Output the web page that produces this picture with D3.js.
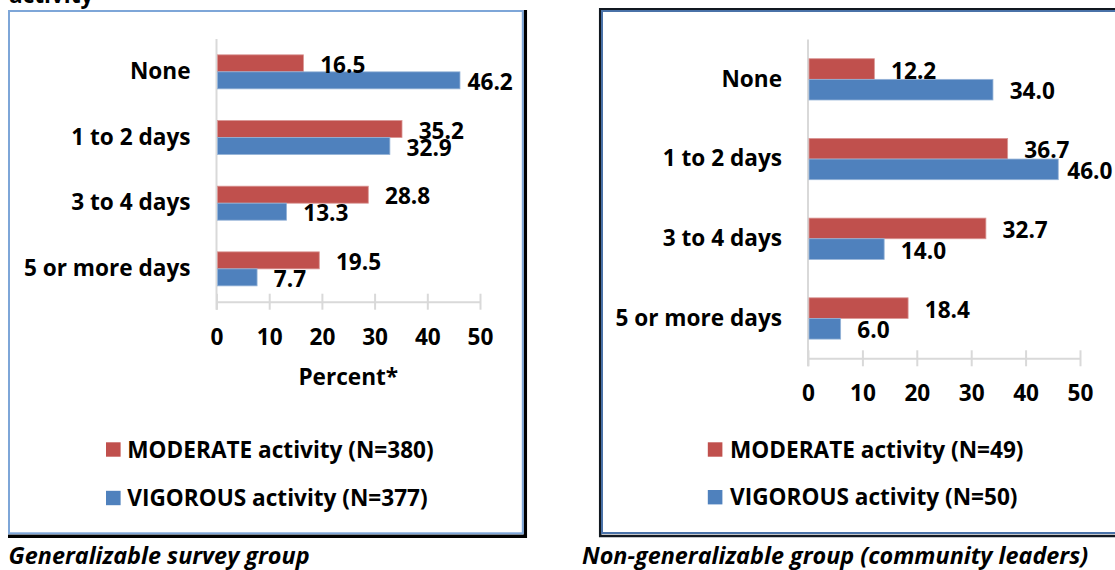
<!DOCTYPE html>
<html><head><meta charset="utf-8">
<script src="https://cdn.jsdelivr.net/npm/d3@7"></script>
<style>
body{margin:0;background:#fff}
svg{display:block}
text{font-family:"Open Sans",sans-serif;font-weight:700;fill:#000}
</style>
</head><body><svg id="chart" width="1115" height="570"></svg>
<script>
// ---------- data ----------
const categories = ["None", "1 to 2 days", "3 to 4 days", "5 or more days"];
const seriesKeys = ["moderate", "vigorous"];
const xTicks = [0, 10, 20, 30, 40, 50];
const generalModerate = [16.5, 35.2, 28.8, 19.5];
const generalVigorous = [46.2, 32.9, 13.3, 7.7];
const leadersModerate = [12.2, 36.7, 32.7, 18.4];
const leadersVigorous = [34.0, 46.0, 14.0, 6.0];
const generalLegend = ["MODERATE activity (N=380)", "VIGOROUS activity (N=377)"];
const leadersLegend = ["MODERATE activity (N=49)", "VIGOROUS activity (N=50)"];
const captions = ["Generalizable survey group", "Non-generalizable group (community leaders)"];
const axisTitle = "Percent*";
const headerFragment = "activity";

// ---------- styles ----------
const colors = {moderate: "#C0504D", vigorous: "#4F81BD"};
const axisColor = "#D9D9D9";
const FS = 22.6;
const CAP_FS = 23.4;

const svg = d3.select("#chart");

// header fragment (cut off at top)
svg.append("text").attr("x", 9).attr("y", 2.5).style("font-size", FS + "px").text(headerFragment);

// frames
svg.append("path").attr("d", "M525.3,10 V536.3 H8").attr("fill", "none").attr("stroke", "#000").attr("stroke-width", 3.5);
svg.append("rect").attr("x", 9).attr("y", 11).attr("width", 513.8).attr("height", 522.3)
  .attr("fill", "none").attr("stroke", "#7EA6D8").attr("stroke-width", 2);
svg.append("path").attr("d", "M1120,9.2 H600.2 V536 H1120").attr("fill", "none").attr("stroke", "#111820").attr("stroke-width", 2.5);
svg.append("path").attr("d", "M1120,11 H602 V533 H1120").attr("fill", "none").attr("stroke", "#4A72A8").attr("stroke-width", 2);

function drawPanel(cfg) {
  const g = svg.append("g");
  const data = categories.map((c, i) => ({cat: c, moderate: cfg.mod[i], vigorous: cfg.vig[i]}));
  const x = d3.scaleLinear().domain([0, 50]).range([cfg.x0, cfg.x1]);
  const y = d3.scaleBand().domain(categories).range([cfg.yTop, cfg.yAxis]).paddingInner(0.482).paddingOuter(0.241);
  const ys = d3.scaleBand().domain(seriesKeys).range([0, y.bandwidth()]);
  const maxV = d3.max(data, d => Math.max(d.moderate, d.vigorous));

  g.append("line").attr("x1", x(0)).attr("x2", x(0)).attr("y1", cfg.yTop).attr("y2", cfg.yAxis + 8)
    .attr("stroke", axisColor).attr("stroke-width", 2);

  const grp = g.selectAll("g.cat").data(data).join("g").attr("class", "cat")
    .attr("transform", d => `translate(0,${y(d.cat)})`);
  grp.selectAll("rect").data(d => seriesKeys.map(k => ({k, v: d[k]}))).join("rect")
    .attr("x", x(0) + 1).attr("y", d => ys(d.k)).attr("height", ys.bandwidth())
    .attr("width", d => x(d.v) - x(0) - 1).attr("fill", d => colors[d.k])
    .attr("stroke", d => d.k === "moderate" ? "#D99694" : "#95B3D7").attr("stroke-width", 0.8);
  grp.selectAll("text").data(d => seriesKeys.map(k => ({k, v: d[k]}))).join("text")
    .attr("x", d => x(d.v) + (d.v === maxV ? cfg.maxGap : 16.7))
    .attr("y", d => ys(d.k) + ys.bandwidth() / 2 + 1.5)
    .attr("dy", "0.357em").style("font-size", FS + "px").text(d => d3.format(".1f")(d.v));

  const ya = g.append("g").attr("transform", `translate(${x(0)},0)`)
    .call(d3.axisLeft(y).tickSize(0).tickPadding(26));
  ya.select(".domain").remove();
  ya.attr("font-family", null).attr("font-size", null);
  ya.selectAll("text").style("font-size", FS + "px").attr("dy", "0.32em");

  const xa = g.append("g").attr("transform", `translate(0,${cfg.yAxis})`)
    .call(d3.axisBottom(x).tickValues(xTicks).tickSizeInner(8).tickSizeOuter(0).tickFormat(d3.format("d")));
  xa.attr("font-family", null).attr("font-size", null);
  xa.select(".domain").attr("stroke", axisColor).attr("stroke-width", 2);
  xa.selectAll(".tick line").attr("y1", -8).attr("y2", 8).attr("stroke", axisColor).attr("stroke-width", 2);
  xa.selectAll(".tick text").attr("y", 35).attr("dy", "0.357em").style("font-size", FS + "px").attr("fill", "#000");

  if (cfg.title) {
    g.append("text").attr("x", (cfg.x0 + cfg.x1) / 2).attr("y", cfg.titleY).attr("dy", "0.357em")
      .attr("text-anchor", "middle").style("font-size", FS + "px").text(cfg.title);
  }

  const lg = g.selectAll("g.leg").data(seriesKeys).join("g").attr("class", "leg")
    .attr("transform", (d, i) => `translate(0,${cfg.legendY[i]})`);
  lg.append("rect").attr("x", cfg.legSqX).attr("y", -7.2).attr("width", 14.6).attr("height", 14.4)
    .attr("fill", d => colors[d]);
  lg.append("text").attr("x", cfg.legTxtX).attr("y", 0).attr("dy", "0.357em").style("font-size", FS + "px")
    .text((d, i) => cfg.legend[i]);

  g.append("text").attr("x", cfg.capX).attr("y", 556).attr("dy", "0.357em")
    .style("font-size", CAP_FS + "px").style("font-style", "italic").text(cfg.caption);
}

drawPanel({mod: generalModerate, vig: generalVigorous, x0: 216.5, x1: 480, yTop: 39, yAxis: 301.7,
  maxGap: 7.6, title: axisTitle, titleY: 377.3, legendY: [449.5, 498], legSqX: 106, legTxtX: 127.3,
  legend: generalLegend, caption: captions[0], capX: 8.6});
drawPanel({mod: leadersModerate, vig: leadersVigorous, x0: 808, x1: 1080, yTop: 39.5, yAxis: 358.3,
  maxGap: 9, title: null, legendY: [449.5, 497.2], legSqX: 707.8, legTxtX: 730,
  legend: leadersLegend, caption: captions[1], capX: 582});
</script>
</body></html>
